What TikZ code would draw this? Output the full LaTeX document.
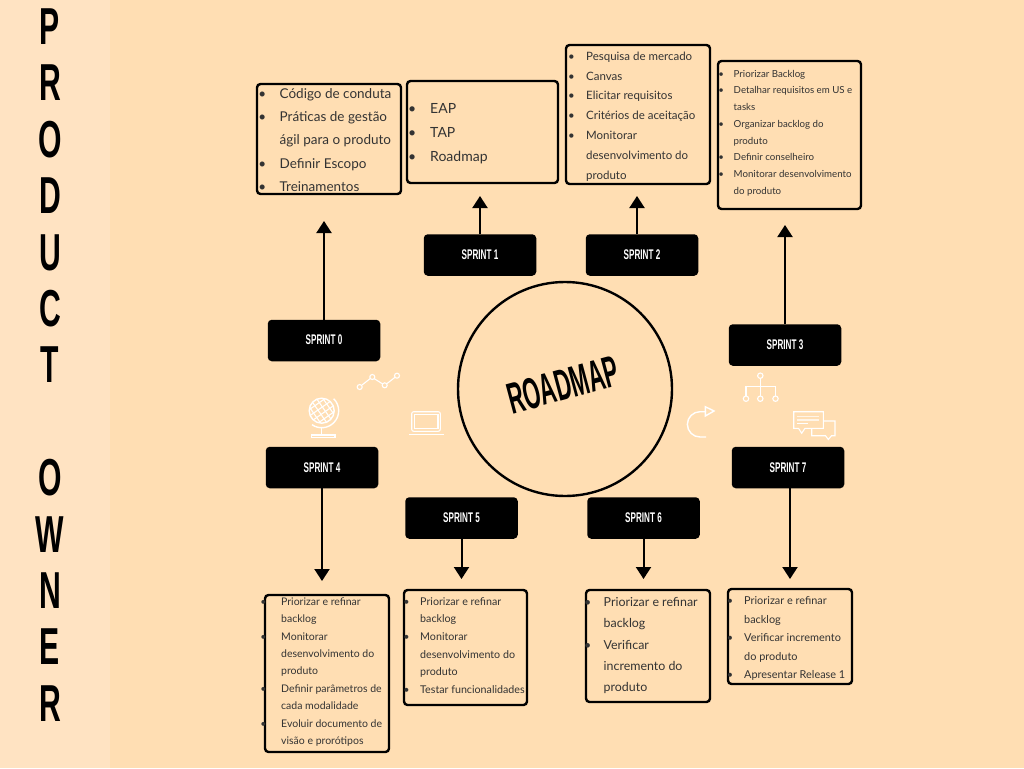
\documentclass[tikz,border=0pt]{standalone}
\usepackage{fontspec}
\usetikzlibrary{arrows.meta}
\setmainfont{Lato}
\newfontfamily\cond[FakeStretch=0.58,BoldFont={Liberation Sans Bold},BoldFeatures={FakeStretch=0.58}]{Liberation Sans}
\newfontfamily\hubfont[FakeStretch=0.5,BoldFont={Liberation Sans Bold},BoldFeatures={FakeStretch=0.5}]{Liberation Sans}
\newcommand\li[1][1em]{\llap{\textbullet\hspace{#1}}}
\definecolor{bgmain}{HTML}{FFDEB3}
\definecolor{bgside}{HTML}{FFE3C2}
\definecolor{txt}{HTML}{333333}
\tikzset{
  x=1pt,y=-1pt,
  panel/.style={draw=black,line width=2.4pt,rounded corners=3.5pt,minimum width=#1,inner sep=0pt},
  listtext/.style n args={2}{anchor=west,inner sep=0pt,align=left,text=txt,font=\fontsize{#1}{#2}\selectfont},
  sprint/.style={fill=black,rounded corners=4pt,text=white,minimum width=112.5pt,minimum height=41.5pt,inner sep=0pt,font=\cond\bfseries\fontsize{14}{14}\selectfont},
  link/.style={draw=black,line width=2pt,-{Triangle[width=15pt,length=12pt]}},
  icon/.style={draw=white,line width=1.1pt,fill=none},
}
\newcommand\panelbox[5]{\node[panel=#4pt-#2pt,minimum height=#5pt-#3pt] (#1) at ({(#2+#4)/2},{(#3+#5)/2}) {};}
\begin{document}
\begin{tikzpicture}
\useasboundingbox (0,0) rectangle (1024,768);
\fill[bgmain] (0,0) rectangle (1024,768);
\fill[bgside] (0,0) rectangle (110,768);
% side title
\node[inner sep=0pt,align=center,font=\cond\bfseries\fontsize{52}{56.4}\selectfont,text=black] (title) at (50,365) {P\\R\\O\\D\\U\\C\\T\\ \\O\\W\\N\\E\\R};
% hub
\node[circle,draw=black,line width=2.4pt,minimum size=214pt,inner sep=0pt] (hub) at (565,389) {};
\node[rotate=15,inner sep=0pt,font=\hubfont\bfseries\fontsize{44}{44}\selectfont,text=black] (hubtext) at (563,385) {ROADMAP};
% sprints
\node[sprint] (s0) at (324,340.5) {\raisebox{1.5pt}{SPRINT 0}};
\node[sprint] (s1) at (480,255) {SPRINT 1};
\node[sprint] (s2) at (642,255) {SPRINT 2};
\node[sprint] (s3) at (785,345) {\raisebox{1.5pt}{SPRINT 3}};
\node[sprint] (s4) at (322,467.5) {SPRINT 4};
\node[sprint] (s5) at (461.5,518) {SPRINT 5};
\node[sprint] (s6) at (643.5,518) {SPRINT 6};
\node[sprint] (s7) at (788,467.5) {SPRINT 7};
% panels
\panelbox{b0}{257}{84}{401}{194}
\panelbox{b1}{407}{81}{558}{183}
\panelbox{b2}{566}{45}{710}{184}
\panelbox{b3}{718}{61}{861}{209}
\panelbox{b4}{265}{595}{389}{752}
\panelbox{b5}{404}{590}{527}{705}
\panelbox{b6}{586}{590}{710}{702}
\panelbox{b7}{728}{589}{852}{684}
\node[listtext={13.5}{23.2}] (t0) at (279.5,140) {\li Código de conduta\\\li Práticas de gestão\\ágil para o produto\\\li Definir Escopo\\\li Treinamentos};
\node[listtext={14}{24}] (t1) at (430,134) {\li EAP\\\li TAP\\\li Roadmap};
\node[listtext={11.5}{19.8}] (t2) at (586,116.5) {\li Pesquisa de mercado\\\li Canvas\\\li Elicitar requisitos\\\li Critérios de aceitação\\\li Monitorar\\desenvolvimento do\\produto};
\node[listtext={9.7}{16.7}] (t3) at (733.5,133) {\li Priorizar Backlog\\\li Detalhar requisitos em US e\\tasks\\\li Organizar backlog do\\produto\\\li Definir conselheiro\\\li Monitorar desenvolvimento\\do produto};
\node[listtext={10.5}{17.4}] (t4) at (281,672) {\li[1.4em]Priorizar e refinar\\backlog\\\li[1.4em]Monitorar\\desenvolvimento do\\produto\\\li[1.4em]Definir parâmetros de\\cada modalidade\\\li[1.4em]Evoluir documento de\\visão e prorótipos};
\node[listtext={10.7}{17.7}] (t5) at (420,645.5) {\li Priorizar e refinar\\backlog\\\li Monitorar\\desenvolvimento do\\produto\\\li Testar funcionalidades};
\node[listtext={12.4}{21.2}] (t6) at (603.5,645.5) {\li Priorizar e refinar\\backlog\\\li Verificar\\incremento do\\produto};
\node[listtext={10.9}{18.5}] (t7) at (744,638.5) {\li Priorizar e refinar\\backlog\\\li Verificar incremento\\do produto\\\li Apresentar Release 1};
% arrow ends
\coordinate (e0) at (324,221);
\coordinate (e1) at (480,196);
\coordinate (e2) at (637,196);
\coordinate (e3) at (785,225);
\coordinate (e4) at (322,581);
\coordinate (e5) at (461.5,579);
\coordinate (e6) at (643.5,579);
\coordinate (e7) at (790,579);
\draw[link] (s0.north) -- (e0);
\draw[link] (s1.north) -- (e1);
\draw[link] (s2.north -| e2) -- (e2);
\draw[link] (s3.north) -- (e3);
\draw[link] (s4.south) -- (e4);
\draw[link] (s5.south) -- (e5);
\draw[link] (s6.south) -- (e6);
\draw[link] (s7.south -| e7) -- (e7);
% line chart icon
\draw[icon] (362,385) -- (370.3,378.5) (374.2,378.6) -- (382.7,384) (386.7,383.8) -- (395,377.3);
\foreach \p in {(359.7,387),(372.3,377),(384.7,385.3),(397,375.7)} \draw[icon] \p circle (2.5);
% laptop icon
\draw[icon,rounded corners=2pt] (411.7,411.7) rectangle (440.3,431.3);
\draw[icon] (414.3,414.3) rectangle (438,428.3);
\draw[icon] (409,434.3) -- (443.7,434.3);
% globe icon
\begin{scope}
\clip (321.7,410.7) circle (12.5);
\begin{scope}[shift={(321.7,410.7)},rotate=35]
\foreach \d in {-8,-2.7,2.7,8} {
  \draw[icon] (\d,-14) -- (\d,14);
  \draw[icon] (-14,\d) -- (14,\d);
}
\end{scope}
\end{scope}
\draw[icon,line width=1.4pt] (321.7,410.7) circle (12.5);
\draw[icon,line width=1.4pt] (333.7,398.7) arc[start angle=45,delta angle=-170,radius=17pt];
\draw[icon,line width=1.4pt] (321.7,427.7) -- (321.7,435);
\draw[icon] (311.7,435) rectangle (335,437.7);
% org icon
\draw[icon] (760.3,378.4) -- (760.3,396);
\draw[icon] (746,396) -- (746,386.7) -- (775.5,386.7) -- (775.5,396);
\foreach \p in {(760.3,375.7),(746,398.7),(760.3,398.7),(775.5,398.7)} \draw[icon] \p circle (2.7);
% return icon
\draw[icon,line width=1.4pt] (706,411.7) -- (700,411.7) arc[start angle=90,delta angle=180,radius=12.65pt] -- (706,437);
\draw[icon,line width=1.4pt] (705.3,406.7) -- (714,411) -- (705.3,416) -- cycle;
% chat icon
\draw[icon] (793.7,411.7) -- (823.3,411.7) -- (823.3,428.3) -- (805,428.3) -- (801.7,433.3) -- (798.5,428.3) -- (793.7,428.3) -- cycle;
\draw[icon] (823.3,421) -- (835,421) -- (835,435.7) -- (831.5,435.7) -- (828.3,439.5) -- (825.5,435.7) -- (811.7,435.7) -- (811.7,428.3);
\draw[icon,opacity=.7] (797.3,416.7) -- (819.3,416.7) (797.3,420) -- (819.3,420);
\draw[icon] (797.3,423.3) -- (808,423.3);
\end{tikzpicture}
\end{document}
